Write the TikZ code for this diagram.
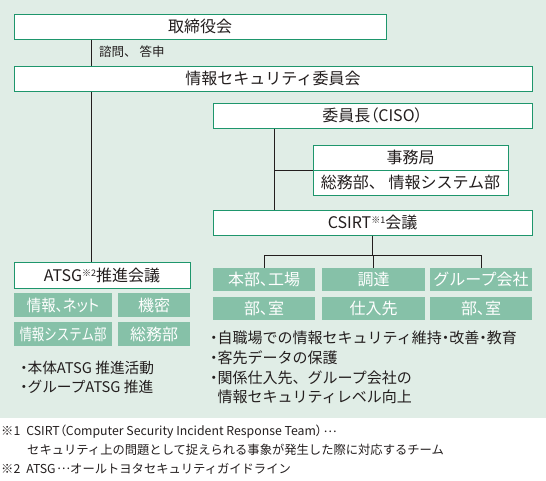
\documentclass[tikz,border=0pt]{standalone}
\usepackage{fontspec}
\setmainfont{Noto Sans CJK JP}
\newfontfamily\pfont[RawFeature=+palt]{Noto Sans CJK JP}
\newcommand{\nd}{{\pfont ・}}
\newcommand{\midell}{\hspace{1.5pt}\raisebox{3.6pt}{…}}
\definecolor{bg}{RGB}{224,237,230}
\definecolor{bgreen}{RGB}{30,150,108}
\definecolor{fgreen}{RGB}{134,193,168}
\definecolor{txt}{RGB}{35,30,30}
\begin{document}
\begin{tikzpicture}[x=1pt,y=-1pt,
  wbox/.style={draw=bgreen, fill=white, line width=1pt, inner sep=0pt, text=txt, font=\fontsize{16}{18}\selectfont},
  gbox/.style={fill=fgreen, inner sep=0pt, text=white, font=\fontsize{16}{18}\selectfont},
  conn/.style={draw=txt, line width=1pt},
  note/.style={anchor=west, inner sep=0pt, text=txt},
]
\useasboundingbox (0,0) rectangle (546,480);
\fill[bg] (0,0) rectangle (546,418);

% main boxes
\node[wbox, minimum width=372pt, minimum height=25pt] (board) at (200,26.5) {取締役会};
\node[wbox, minimum width=518pt, minimum height=25pt] (iscom) at (273,78.5) {情報セキュリティ委員会};
\node[wbox, minimum width=319pt, minimum height=25pt] (ciso) at (372.5,115.5) {委員長{\pfont（}CISO{\pfont）}};
\node[wbox, minimum width=195pt, minimum height=25pt] (jimu1) at (410.5,157.5) {事務局};
\node[wbox, minimum width=195pt, minimum height=25pt] (jimu2) at (410.5,182.5) {総務部、 情報システム部};
\node[wbox, minimum width=319pt, minimum height=25pt] (csirt) at (372.5,222.5) {CSIRT\raisebox{5pt}{\fontsize{9}{9}\selectfont ※1}会議};
\node[wbox, minimum width=176pt, minimum height=26pt] (atsg) at (102,275) {ATSG\raisebox{5pt}{\fontsize{9}{9}\selectfont ※2}推進会議};

% CSIRT green boxes
\node[gbox, minimum width=102pt, minimum height=23pt] (c11) at (264,279.5) {\pfont 本部、工場};
\node[gbox, minimum width=103pt, minimum height=23pt] (c12) at (373.5,279.5) {調達};
\node[gbox, minimum width=102pt, minimum height=23pt] (c13) at (481,279.5) {グループ会社};
\node[gbox, minimum width=102pt, minimum height=23pt] (c21) at (264,308.5) {\pfont 部、室};
\node[gbox, minimum width=103pt, minimum height=23pt] (c22) at (373.5,308.5) {仕入先};
\node[gbox, minimum width=102pt, minimum height=23pt] (c23) at (481,308.5) {\pfont 部、室};

% ATSG green boxes
\node[gbox, minimum width=98pt, minimum height=24pt] (a11) at (63,305) {\scalebox{0.9}[1]{\pfont 情報、ネット}};
\node[gbox, minimum width=72pt, minimum height=24pt] (a12) at (154,305) {機密};
\node[gbox, minimum width=98pt, minimum height=24pt] (a21) at (63,334) {\scalebox{0.78}[1]{情報システム部}};
\node[gbox, minimum width=72pt, minimum height=24pt] (a22) at (154,334) {総務部};

% connectors
\coordinate (la) at (91,0);
\coordinate (lb) at (274,0);
\coordinate (busy) at (0,255);
\draw[conn] (la |- board.south) -- (la |- iscom.north);
\draw[conn] (la |- iscom.south) -- (la |- atsg.north);
\draw[conn] (lb |- ciso.south) -- (lb |- csirt.north);
\draw[conn] (lb |- jimu1.south west) -- (jimu1.south west);
\draw[conn] (csirt.south) -- (csirt.south |- busy);
\draw[conn] (c11.north) -- (c11.north |- busy) -- (c13.north |- busy) -- (c13.north);
\draw[conn] (c12.north |- busy) -- (c12.north);

% labels
\node[note, font=\fontsize{12.5}{14}\selectfont] (advice) at (99,52) {諮問、 答申};
\node[note, align=left, font=\fontsize{14.7}{19}\selectfont] (llist) at (20,377.5) {\nd 本体ATSG 推進活動\\\nd グループATSG 推進};
\node[note, align=left, font=\fontsize{15}{19.6}\selectfont] (rlist) at (210,367.5) {\nd 自職場での情報セキュリティ維持\nd 改善\nd 教育\\\nd 客先データの保護\\\nd 関係仕入先、グループ会社の\\\phantom{\nd}情報セキュリティレベル向上};

% footnotes
\node[note, font=\fontsize{12.3}{14}\selectfont] (fn1) at (1,432) {※1\hspace{6pt}CSIRT{\pfont（}Computer Security Incident Response Team{\pfont）}\midell};
\node[note, font=\fontsize{12.3}{14}\selectfont] (fn1b) at (27,450) {セキュリティ上の問題として捉えられる事象が発生した際に対応するチーム};
\node[note, font=\fontsize{12.3}{14}\selectfont] (fn2) at (1,469) {※2\hspace{6pt}ATSG\midell オールトヨタセキュリティガイドライン};
\end{tikzpicture}
\end{document}
